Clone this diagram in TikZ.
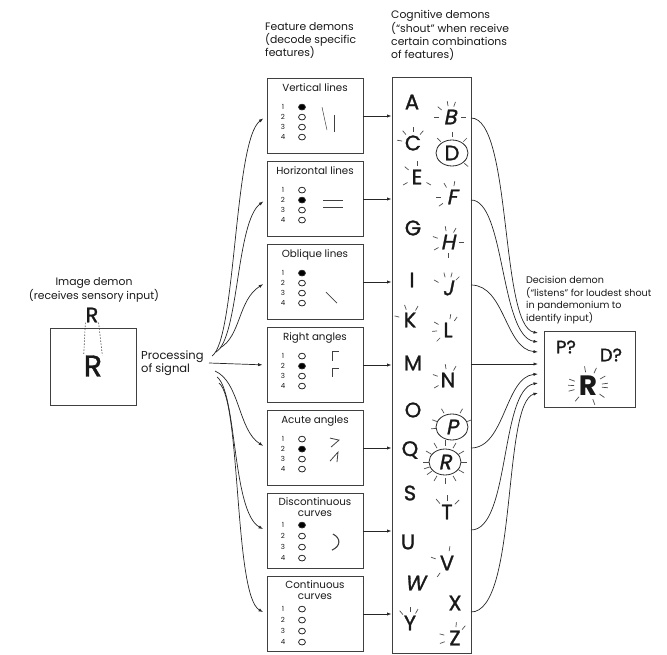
\documentclass[tikz,border=0pt]{standalone}
\usepackage{fontspec}
\setmainfont{Poppins}
\newfontfamily\letfont[FakeBold=1.3]{Poppins}
\newfontfamily\letslant[FakeSlant=0.2,FakeBold=1.3]{Poppins}
\usetikzlibrary{arrows.meta,calc}
\tikzset{
 box/.style={draw=black!75, line width=0.8pt, inner sep=0pt},
 featbox/.style={box, minimum width=96pt, minimum height=75pt},
 lbl/.style={font=\fontsize{10.8}{13}\selectfont, align=left, inner sep=0pt, text=black!90},
 ttl/.style={font=\fontsize{10.3}{11.5}\selectfont, align=center, inner sep=0pt, text=black!90},
 num/.style={font=\fontsize{7}{7}\selectfont, inner sep=0pt, text=black!90},
 circ/.style={draw=black!85, line width=0.8pt},
 arr/.style={draw=black!85, line width=0.7pt, -{Latex[length=4.5pt,width=3.2pt]}},
 sym/.style={draw=black!75, line width=0.8pt},
 let/.style={font=\letfont\fontsize{21}{21}\selectfont, inner sep=0pt, text=black!90},
 slet/.style={font=\letslant\fontsize{21}{21}\selectfont, inner sep=0pt, text=black!90},
 ray/.style={draw=black!70, line width=0.7pt},
}
\newcommand\featrows[4]{%
  \foreach \k in {1,...,4}{%
    \pgfmathsetmacro\yy{#2+(\k-1)*#3}%
    \node[num] (#1n\k) at ($(#1.north)+(-32,\yy)$) {\k};%
    \ifnum\k=#4\relax
      \filldraw[circ, fill=black] ($(#1.north)+(-13,\yy)$) ellipse [x radius=3.4pt, y radius=2.9pt];%
    \else
      \draw[circ] ($(#1.north)+(-13,\yy)$) ellipse [x radius=3.4pt, y radius=2.9pt];%
    \fi
  }}
\newcommand\shout[4]{\foreach \a in {#2}{\draw[ray] (#1.center) ++(\a:#3) -- ++(\a:#4);}}
\begin{document}
\begin{tikzpicture}[x=1pt,y=-1pt]
\useasboundingbox (0,0) rectangle (667,655);

% ---------- image demon ----------
\node[lbl, align=center] (imglbl) at (94,290) {Image demon\\(receives sensory input)};
\node[box, minimum width=86pt, minimum height=77pt] (img) at (93,366.5) {};
\node[font=\letfont\fontsize{21}{21}\selectfont, inner sep=0pt, text=black!90] (rs) at (92,315) {R};
\node[font=\letfont\fontsize{30}{30}\selectfont, inner sep=0pt, text=black!90] (rb) at (93,366) {R};
\draw[black!70, line width=0.6pt, dash pattern=on 1.5pt off 1.5pt] (rs.south west) -- (rb.north west);
\draw[black!70, line width=0.6pt, dash pattern=on 1.5pt off 1.5pt] (rs.south east) -- (rb.north east);
\node[lbl, anchor=west, font=\fontsize{11.5}{13}\selectfont] (proc) at (141,363) {Processing\\of signal};

% ---------- feature demons ----------
\node[lbl, anchor=north west] (featlbl) at (265,22) {Feature demons\\(decode specific\\features)};
\node[featbox] (fv) at (315,116) {};
\node[featbox] (fh) at (315,199) {};
\node[featbox] (fo) at (315,282) {};
\node[featbox] (fr) at (315,365) {};
\node[featbox] (fa) at (315,448) {};
\node[featbox] (fd) at (315,531) {};
\node[featbox] (fc) at (315,614) {};

\node[ttl, anchor=base] (fvt) at ($(fv.north)+(0,13.5)$) {Vertical lines};
\node[ttl, anchor=base] (fht) at ($(fh.north)+(0,13.5)$) {Horizontal lines};
\node[ttl, anchor=base] (fot) at ($(fo.north)+(0,13.5)$) {Oblique lines};
\node[ttl, anchor=base] (frt) at ($(fr.north)+(0,13.5)$) {Right angles};
\node[ttl, anchor=base] (fat) at ($(fa.north)+(0,13.5)$) {Acute angles};
\node[ttl, anchor=north] (fdt) at ($(fd.north)+(0,4)$) {Discontinuous\\curves};
\node[ttl, anchor=north] (fct) at ($(fc.north)+(0,4)$) {Continuous\\curves};

\featrows{fv}{29}{10}{1}
\featrows{fh}{29}{10}{2}
\featrows{fo}{29}{10}{1}
\featrows{fr}{29}{10}{2}
\featrows{fa}{29}{10}{2}
\featrows{fd}{32}{11}{1}
\featrows{fc}{33}{11}{0}

% symbols
\draw[sym, line width=0.5pt] ($(fv.north)+(7,29)$) -- ($(fv.north)+(12,52)$);
\draw[sym] ($(fv.north)+(19,37)$) -- ($(fv.north)+(19,54)$);
\draw[sym] ($(fh.north)+(8,39.5)$) -- ($(fh.north)+(28,39.5)$);
\draw[sym] ($(fh.north)+(8,46.5)$) -- ($(fh.north)+(28,46.5)$);
\draw[sym] ($(fo.north)+(11,48)$) -- ($(fo.north)+(22,59)$);
\draw[sym] ($(fr.north)+(24,24)$) -- ($(fr.north)+(17,24)$) -- ($(fr.north)+(17,34)$);
\draw[sym] ($(fr.north)+(24,41)$) -- ($(fr.north)+(17,41)$) -- ($(fr.north)+(17,50)$);
\draw[sym] ($(fa.north)+(15,28)$) -- ($(fa.north)+(24,30)$) -- ($(fa.north)+(16,37)$);
\draw[sym] ($(fa.north)+(15,51)$) -- ($(fa.north)+(23,42)$) -- ($(fa.north)+(22,52)$);
\draw[sym, line width=1.1pt] ($(fd.north)+(18,41)$) .. controls ($(fd.north)+(26,45)$) and ($(fd.north)+(26,53)$) .. ($(fd.north)+(17,57)$);

% fan of arrows from processing
\coordinate (s1) at (212,356);
\coordinate (s2) at (216,352);
\coordinate (s3) at (220,348);
\coordinate (s4) at (209,363);
\coordinate (s5) at (215,371);
\coordinate (s6) at (217,377);
\coordinate (s7) at (219,383);
\draw[arr, shorten >=4pt] (s1) .. controls (236,340) and (234,140) .. (fv.west);
\draw[arr, shorten >=4pt] (s2) .. controls (239,338) and (236,222) .. (fh.west);
\draw[arr, shorten >=4pt] (s3) .. controls (241,336) and (238,300) .. (fo.west);
\draw[arr, shorten >=4pt] (s4) -- (fr.west);
\draw[arr, shorten >=4pt] (s5) .. controls (240,382) and (238,430) .. (fa.west);
\draw[arr, shorten >=4pt] (s6) .. controls (237,392) and (232,512) .. (fd.west);
\draw[arr, shorten >=4pt] (s7) .. controls (241,400) and (234,596) .. (fc.west);

% ---------- cognitive demons ----------
\node[lbl, anchor=north west] (coglbl) at (391,10) {Cognitive demons\\(“shout” when receive\\certain combinations\\of features)};
\node[box, minimum width=79pt, minimum height=576pt] (cog) at (431.5,365) {};
\foreach \f in {fv,fh,fo,fr,fa,fd,fc}{\draw[arr] (\f.east) -- (\f.east -| cog.west);}

\node[let]  (lA) at (412,102) {A};
\node[slet] (lB) at (450,117) {B};
\node[let]  (lC) at (413,143) {C};
\node[let]  (lD) at (452,153) {D};
\node[let]  (lE) at (417,177) {E};
\node[slet] (lF) at (452,197) {F};
\node[let]  (lG) at (413,228) {G};
\node[slet] (lH) at (448,242) {H};
\node[let]  (lI) at (412,280) {I};
\node[slet] (lJ) at (448,288) {J};
\node[let]  (lK) at (410,320) {K};
\node[let]  (lL) at (448,330) {L};
\node[let]  (lM) at (413,363) {M};
\node[let]  (lN) at (448,380) {N};
\node[let]  (lO) at (413,410) {O};
\node[slet] (lP) at (452,427) {P};
\node[let]  (lQ) at (410,450) {Q};
\node[slet] (lR) at (445,462) {R};
\node[let]  (lS) at (410,493) {S};
\node[let]  (lT) at (447,512) {T};
\node[let]  (lU) at (408,542) {U};
\node[let]  (lV) at (447,563) {V};
\node[slet] (lW) at (415,583) {W};
\node[let]  (lX) at (455,603) {X};
\node[let]  (lY) at (410,623) {Y};
\node[let]  (lZ) at (455,638) {Z};

\draw[circ] (lD.center) ellipse [x radius=16pt, y radius=13pt];
\draw[circ] (lP.center) ellipse [x radius=16pt, y radius=13pt];
\draw[circ] (lR.center) ellipse [x radius=16pt, y radius=13pt];

\shout{lB}{70,100,140,180,0}{11pt}{5pt}
\shout{lC}{50,90,130,170}{11pt}{5pt}
\shout{lD}{45,90,135,-40}{16pt}{5pt}
\shout{lE}{90,140,210,-30}{11pt}{5pt}
\shout{lF}{80,120,180,215}{11pt}{5pt}
\shout{lH}{60,100,160,210,0,270}{11pt}{5pt}
\shout{lJ}{45,75,105,150}{11pt}{5pt}
\shout{lK}{60,110,165}{11pt}{5pt}
\shout{lL}{55,80,150,185,225}{11pt}{5pt}
\shout{lN}{60,100,160,210}{11pt}{5pt}
\shout{lP}{20,60,120,160,185}{16pt}{5pt}
\shout{lR}{0,30,60,90,120,150,180,198,215,240,270,300,330}{16pt}{6pt}
\shout{lT}{45,90,130}{11pt}{6pt}
\shout{lV}{80,160,235}{12pt}{5pt}
\shout{lY}{60,90,130}{11pt}{5pt}
\shout{lZ}{50,85,165,200}{11pt}{5pt}

% ---------- decision demon ----------
\node[lbl, anchor=north west, font=\fontsize{9.6}{12.7}\selectfont] (declbl) at (526,276) {Decision demon\\(“listens” for loudest shout\\in pandemonium to\\identify input)};
\node[box, minimum width=91pt, minimum height=76pt] (dec) at (589.5,369) {};
\node[font=\letfont\fontsize{18}{18}\selectfont, inner sep=0pt, text=black!90] (dp) at (566,347) {P?};
\node[font=\letfont\fontsize{18}{18}\selectfont, inner sep=0pt, text=black!90] (dd) at (611,355) {D?};
\node[font=\bfseries\fontsize{28}{28}\selectfont, inner sep=0pt, text=black!90] (dr) at (588,386) {R};
\shout{dr}{100,65,30,8,-5,-35,-70,160,178,195,230}{14pt}{6pt}

\coordinate (o1) at (471,118); \coordinate (i1) at (538,333);
\coordinate (o2) at (471,200); \coordinate (i2) at (538,342);
\coordinate (o3) at (471,285); \coordinate (i3) at (538,352);
\coordinate (o4) at (471,364); \coordinate (i4) at (538,364);
\coordinate (o5) at (471,448); \coordinate (i5) at (538,374);
\coordinate (o6) at (471,530); \coordinate (i6) at (538,383);
\coordinate (o7) at (471,612); \coordinate (i7) at (538,393);
\draw[arr] (o1) .. controls (512,118) and (500,326) .. (i1);
\draw[arr] (o2) .. controls (505,200) and (500,336) .. (i2);
\draw[arr] (o3) .. controls (505,285) and (505,349) .. (i3);
\draw[arr] (o4) -- (i4);
\draw[arr] (o5) .. controls (505,448) and (505,377) .. (i5);
\draw[arr] (o6) .. controls (510,530) and (500,390) .. (i6);
\draw[arr] (o7) .. controls (518,612) and (502,402) .. (i7);
\end{tikzpicture}
\end{document}
